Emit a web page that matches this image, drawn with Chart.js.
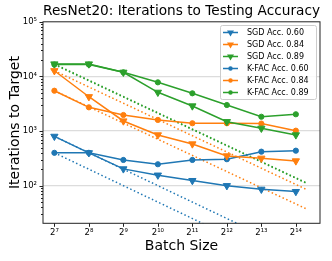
<!DOCTYPE html>
<html lang="en">
<head>
<meta charset="UTF-8">
<title>ResNet20: Iterations to Testing Accuracy</title>
<script src="https://cdn.jsdelivr.net/npm/chart.js"></script>
<style>
  html, body { margin: 0; padding: 0; background: #fff; }
</style>
</head>
<body>
<canvas id="chart" width="332" height="261"></canvas>
<script>
// batch size given as power of two (2^7 ... 2^14)
const batchExp = [7, 8, 9, 10, 11, 12, 13, 14];

const sgd60  = [800, 400, 203, 156, 124, 100, 86, 78];
const sgd84  = [12700, 4250, 1530, 850, 581, 351, 318, 284];
const sgd89  = [16900, 16900, 11900, 5120, 2880, 1486, 1125, 850];
const kfac60 = [400, 400, 296, 247, 296, 305, 420, 438];
const kfac84 = [5480, 2720, 1970, 1600, 1390, 1390, 1370, 1017];
const kfac89 = [16500, 16500, 11900, 7800, 4910, 3000, 1830, 2030];

const seriesNames = ['SGD Acc. 0.60', 'SGD Acc. 0.84', 'SGD Acc. 0.89',
                     'K-FAC Acc. 0.60', 'K-FAC Acc. 0.84', 'K-FAC Acc. 0.89'];

// dotted "perfect scaling" lines, start and end values
const idealExp   = [7, 14.33];
const idealStart = [800, 12700, 16900, 400, 5480, 16500];
const idealEnd   = [5.0, 84, 111, 2.5, 37, 109];

const yMajor = [100, 1000, 10000, 100000];

const blue = '#1f77b4', orange = '#ff7f0e', green = '#2ca02c';
const colors = [blue, orange, green, blue, orange, green];
const series = [sgd60, sgd84, sgd89, kfac60, kfac84, kfac89];

const sup = { '0': '⁰', '1': '¹', '2': '²', '3': '³', '4': '⁴', '5': '⁵', '6': '⁶', '7': '⁷', '8': '⁸', '9': '⁹' };
function toSup(n) { return String(n).split('').map(c => sup[c]).join(''); }

Chart.defaults.font.family = 'DejaVu Sans';
Chart.defaults.color = '#000';

const datasets = [];
series.forEach((vals, i) => {
    const isSgd = i < 3;
    datasets.push({
        label: seriesNames[i],
        data: batchExp.map((b, j) => ({ x: b, y: vals[j] })),
        borderColor: colors[i],
        backgroundColor: colors[i],
        borderWidth: 1.5,
        pointStyle: isSgd ? 'triangle' : 'circle',
        rotation: isSgd ? 180 : 0,
        pointRadius: isSgd ? 4.2 : 2.6,
        pointBorderWidth: 1,
        tension: 0
    });
});
idealStart.forEach((v, i) => {
    datasets.push({
        label: 'ideal ' + i,
        data: [{ x: idealExp[0], y: v }, { x: idealExp[1], y: idealEnd[i] }],
        borderColor: colors[i],
        borderWidth: 1.5,
        borderDash: [1.5, 2.5],
        pointRadius: 0,
        tension: 0
    });
});

// frame, tick marks and legend drawn by hand to look like the original
const frame = {
    id: 'frame',
    afterDatasetsDraw(chart) {
        const ctx = chart.ctx;
        const a = chart.chartArea;
        const xs = chart.scales.x, ys = chart.scales.y;
        ctx.save();
        ctx.strokeStyle = '#222';
        ctx.lineWidth = 1;
        ctx.strokeRect(a.left, a.top, a.right - a.left, a.bottom - a.top);

        ctx.beginPath();
        batchExp.forEach(b => {
            const px = Math.round(xs.getPixelForValue(b)) + 0.5;
            ctx.moveTo(px, a.bottom);
            ctx.lineTo(px, a.bottom + 3.5);
        });
        ys.ticks.forEach(t => {
            const py = Math.round(ys.getPixelForValue(t.value)) + 0.5;
            const len = yMajor.includes(t.value) ? 3.5 : 2;
            ctx.moveTo(a.left, py);
            ctx.lineTo(a.left - len, py);
        });
        ctx.stroke();

        // legend
        const bx = 220.5, by = 25.5, bw = 96, bh = 74;
        ctx.fillStyle = 'rgba(255,255,255,0.85)';
        ctx.strokeStyle = '#cccccc';
        ctx.beginPath();
        ctx.roundRect(bx, by, bw, bh, 2);
        ctx.fill();
        ctx.stroke();
        ctx.font = '8px "DejaVu Sans"';
        ctx.textBaseline = 'middle';
        seriesNames.forEach((name, i) => {
            const y = 32.5 + i * 12;
            ctx.strokeStyle = colors[i];
            ctx.fillStyle = colors[i];
            ctx.lineWidth = 1.5;
            ctx.beginPath();
            ctx.moveTo(223, y);
            ctx.lineTo(238, y);
            ctx.stroke();
            ctx.beginPath();
            if (i < 3) {
                ctx.moveTo(230.5 - 3.5, y - 2);
                ctx.lineTo(230.5 + 3.5, y - 2);
                ctx.lineTo(230.5, y + 4);
                ctx.closePath();
            } else {
                ctx.arc(230.5, y, 2.2, 0, Math.PI * 2);
            }
            ctx.fill();
            ctx.fillStyle = '#000';
            ctx.fillText(name, 247, y);
        });
        ctx.restore();
    }
};

new Chart(document.getElementById('chart'), {
    type: 'line',
    data: { datasets },
    options: {
        responsive: false,
        animation: false,
        layout: { padding: { left: 0, right: 12, top: 0, bottom: 0 } },
        plugins: {
            legend: { display: false },
            tooltip: { enabled: false },
            title: {
                display: true,
                fullSize: false,
                text: 'ResNet20: Iterations to Testing Accuracy',
                font: { size: 14, weight: 'normal' },
                color: '#000',
                padding: { top: 3, bottom: 2 }
            }
        },
        scales: {
            x: {
                type: 'linear',
                min: 6.67,
                max: 14.7,
                afterFit: s => { s.height = 37.7; },
                afterBuildTicks: s => { s.ticks = batchExp.map(v => ({ value: v })); },
                grid: { display: false, drawTicks: false },
                border: { display: false },
                ticks: {
                    autoSkip: false,
                    maxRotation: 0,
                    padding: 4,
                    font: { size: 8.5 },
                    callback: v => '2' + toSup(v)
                },
                title: {
                    display: true,
                    text: 'Batch Size',
                    font: { size: 14 },
                    padding: { top: 0, bottom: 6 }
                }
            },
            y: {
                type: 'logarithmic',
                min: 20.5,
                max: 100000,
                afterFit: s => { s.width = 43; },
                afterBuildTicks: s => {
                    const ticks = [];
                    for (let k = 1; k <= 4; k++) {
                        for (let m = 1; m <= 9; m++) {
                            const v = m * Math.pow(10, k);
                            if (v >= 20.5) ticks.push({ value: v });
                        }
                    }
                    ticks.push({ value: 100000 });
                    s.ticks = ticks;
                },
                grid: {
                    drawTicks: false,
                    lineWidth: 1.2,
                    color: c => (c.tick && [100, 1000, 10000].includes(c.tick.value)) ? '#dcdcdc' : 'rgba(0,0,0,0)'
                },
                border: { display: false },
                ticks: {
                    autoSkip: false,
                    padding: 6,
                    font: { size: 8.5 },
                    callback: v => yMajor.includes(v) ? '10' + toSup(Math.round(Math.log10(v))) : ''
                },
                title: {
                    display: true,
                    text: 'Iterations to Target',
                    font: { size: 14 },
                    padding: { top: 7, bottom: 0 }
                }
            }
        }
    },
    plugins: [frame]
});
</script>
</body>
</html>
